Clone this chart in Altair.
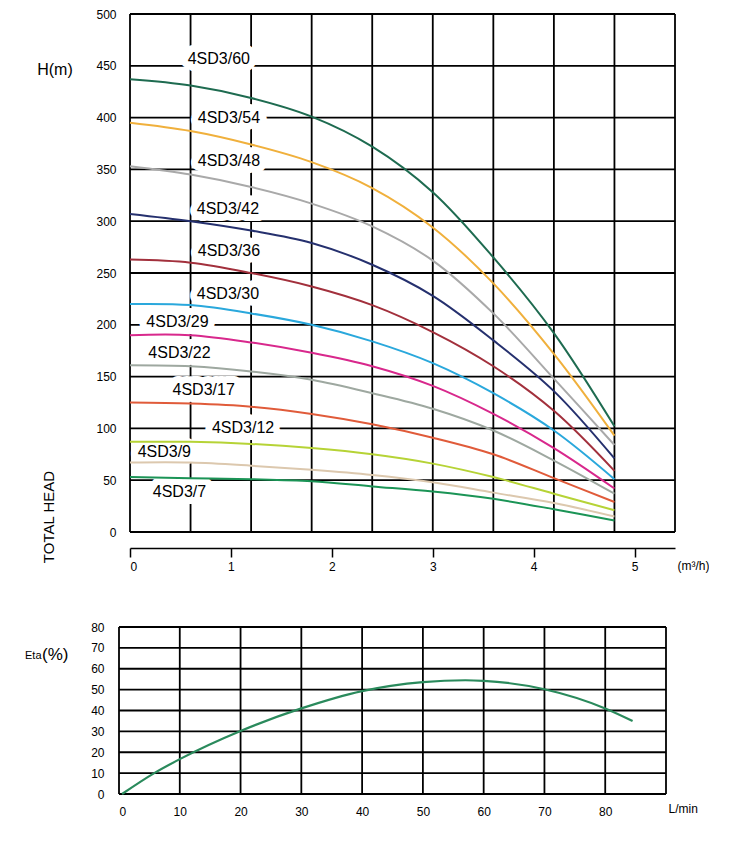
import altair as alt
import pandas as pd

FONT = "Liberation Sans"

# ---------------- data: head curves (H in m vs Q in m3/h) ----------------
flow_m3h = [0, 0.6, 1.2, 1.8, 2.4, 3.0, 3.6, 4.2, 4.8]
head_60 = [437, 431, 419, 401, 372, 328, 265, 192, 102]
head_54 = [395, 387, 374, 357, 332, 294, 240, 172, 93]
head_48 = [353, 345, 333, 317, 295, 262, 211, 148, 84]
head_42 = [307, 300, 291, 279, 258, 228, 185, 136, 71]
head_36 = [263, 260, 250, 237, 219, 193, 160, 117, 59]
head_30 = [220, 219, 211, 200, 184, 163, 134, 98, 51]
head_29 = [190, 190, 183, 173, 160, 141, 114, 81, 42]
head_22 = [161, 160, 155, 147, 134, 119, 98, 69, 37]
head_17 = [125, 124, 121, 114, 104, 91, 75, 52, 29]
head_12 = [87, 87, 85, 81, 75, 66, 53, 37, 21]
head_9 = [67, 67, 64, 60, 55, 48, 38, 28, 15]
head_7 = [53, 52, 51, 49, 44, 39, 32, 22, 11]

models = ["4SD3/60", "4SD3/54", "4SD3/48", "4SD3/42", "4SD3/36", "4SD3/30",
          "4SD3/29", "4SD3/22", "4SD3/17", "4SD3/12", "4SD3/9", "4SD3/7"]
heads = [head_60, head_54, head_48, head_42, head_36, head_30,
         head_29, head_22, head_17, head_12, head_9, head_7]
colors = ["#1e6b50", "#f0b03c", "#a9a9a9", "#25306e", "#a2303c", "#2aa8dc",
          "#d8288c", "#9ea8a0", "#e05b3a", "#b6d336", "#dcc8ae", "#1b9456"]

# model label positions (in data units)
label_x = [0.88, 0.98, 0.98, 0.97, 0.98, 0.97, 0.47, 0.49, 0.73, 1.12, 0.34, 0.49]
label_y = [457, 400, 358, 312, 271, 230, 203, 173, 137, 100, 77, 39]

x_ticks = [0, 1, 2, 3, 4, 5]
y_ticks = [0, 50, 100, 150, 200, 250, 300, 350, 400, 450, 500]
grid_x = [0, 0.6, 1.2, 1.8, 2.4, 3.0, 3.6, 4.2, 4.8, 5.4]
grid_y = [0, 50, 100, 150, 200, 250, 300, 350, 400, 450, 500]

# ---------------- data: efficiency curve ----------------
eta_flow = [0.5, 5.8, 10, 20, 30, 40, 50, 57, 60, 70, 80, 84.5]
eta_vals = [0, 10, 16.7, 30.2, 41, 49.3, 53.6, 54.5, 54.2, 50.2, 41, 35]
eta_x_ticks = [0, 10, 20, 30, 40, 50, 60, 70, 80]
eta_y_ticks = [0, 10, 20, 30, 40, 50, 60, 70, 80]
eta_grid_x = [0, 10, 20, 30, 40, 50, 60, 70, 80, 90]
eta_grid_y = [0, 10, 20, 30, 40, 50, 60, 70, 80]

# ---------------- tables ----------------
rows = []
for m, h in zip(models, heads):
    for q, v in zip(flow_m3h, h):
        rows.append({"model": m, "q": q, "h": v})
curves_df = pd.DataFrame(rows)
labels_df = pd.DataFrame({"model": models, "lx": label_x, "ly": label_y})
gx_df = pd.DataFrame({"gx": grid_x})
gy_df = pd.DataFrame({"gy": grid_y, "x0": grid_x[0], "x1": grid_x[-1]})

eta_df = pd.DataFrame({"q": eta_flow, "eta": eta_vals})
egx_df = pd.DataFrame({"gx": eta_grid_x})
egy_df = pd.DataFrame({"gy": eta_grid_y})

# ---------------- top chart ----------------
TW, TH = 556, 518
xs = alt.Scale(domain=[0, 5.4], range=[11, TW], nice=False, zero=False)
ys = alt.Scale(domain=[0, 500], nice=False)

x_axis = alt.Axis(values=x_ticks, title="(m³/h)", offset=16, domainColor="black",
                  domainWidth=1.5, tickColor="black", tickSize=9, tickWidth=1.5,
                  labelFontSize=12, labelPadding=4, labelFont=FONT, labelColor="black",
                  titleFont=FONT, titleFontSize=12, titleFontWeight="normal",
                  titleColor="black", titleX=558, titleY=17, titleAlign="left",
                  titleBaseline="middle", grid=False, format="d")
y_axis = alt.Axis(values=y_ticks, title=None, domain=False, ticks=False, labelPadding=3,
                  labelFontSize=12, labelFont=FONT, labelColor="black", grid=False,
                  format="d")

vgrid = alt.Chart(gx_df).mark_rule(color="black", strokeWidth=1.8).encode(
    x=alt.X("gx:Q", scale=xs, axis=x_axis)
)
hgrid = alt.Chart(gy_df).mark_rule(color="black", strokeWidth=1.8).encode(
    y=alt.Y("gy:Q", scale=ys, axis=y_axis),
    x=alt.X("x0:Q", scale=xs, axis=x_axis),
    x2="x1:Q",
)
halo = alt.Chart(labels_df).mark_text(
    font=FONT, fontSize=16, stroke="white", strokeWidth=14, fill="white",
    strokeJoin="round", align="center", baseline="middle"
).encode(
    x=alt.X("lx:Q", scale=xs, axis=x_axis),
    y=alt.Y("ly:Q", scale=ys, axis=y_axis),
    text="model:N",
)
lines = alt.Chart(curves_df).mark_line(strokeWidth=2, interpolate="catmull-rom").encode(
    x=alt.X("q:Q", scale=xs, axis=x_axis),
    y=alt.Y("h:Q", scale=ys, axis=y_axis),
    color=alt.Color("model:N", scale=alt.Scale(domain=models, range=colors), legend=None),
    detail="model:N",
)
label_text = alt.Chart(labels_df).mark_text(
    font=FONT, fontSize=16, color="black", align="center", baseline="middle"
).encode(
    x=alt.X("lx:Q", scale=xs, axis=x_axis),
    y=alt.Y("ly:Q", scale=ys, axis=y_axis),
    text="model:N",
)
hm_text = alt.Chart(pd.DataFrame({"t": ["H(m)"]})).mark_text(
    font=FONT, fontSize=16, color="black", align="center", baseline="middle"
).encode(text="t:N", x=alt.value(-64), y=alt.value(56))
th_text = alt.Chart(pd.DataFrame({"t": ["TOTAL HEAD"]})).mark_text(
    font=FONT, fontSize=15, color="black", align="center", baseline="middle", angle=270
).encode(text="t:N", x=alt.value(-70), y=alt.value(503))

top = alt.layer(vgrid, hgrid, halo, lines, label_text, hm_text, th_text).properties(
    width=TW, height=TH
)

# ---------------- bottom chart ----------------
BW, BH = 547, 167
exs = alt.Scale(domain=[0, 90], nice=False, zero=False)
eys = alt.Scale(domain=[0, 80], nice=False)
ex_axis = alt.Axis(values=eta_x_ticks, title="L/min", domain=False, ticks=False,
                   labelPadding=12, labelFontSize=12, labelFont=FONT, labelColor="black",
                   titleFont=FONT, titleFontSize=12, titleFontWeight="normal",
                   titleColor="black", titleX=549, titleY=14, titleAlign="left",
                   titleBaseline="middle", grid=False, format="d")
ey_axis = alt.Axis(values=eta_y_ticks, title=None, domain=False, ticks=False,
                   labelPadding=15, labelFontSize=12, labelFont=FONT, labelColor="black",
                   grid=False, format="d")

evgrid = alt.Chart(egx_df).mark_rule(color="black", strokeWidth=1.8).encode(
    x=alt.X("gx:Q", scale=exs, axis=ex_axis)
)
ehgrid = alt.Chart(egy_df).mark_rule(color="black", strokeWidth=1.8).encode(
    y=alt.Y("gy:Q", scale=eys, axis=ey_axis)
)
eline = alt.Chart(eta_df).mark_line(color="#2a8a5c", strokeWidth=2.2,
                                    interpolate="monotone").encode(
    x=alt.X("q:Q", scale=exs, axis=ex_axis),
    y=alt.Y("eta:Q", scale=eys, axis=ey_axis),
)
eta_t1 = alt.Chart(pd.DataFrame({"t": ["Eta"]})).mark_text(
    font=FONT, fontSize=11, color="black", align="left", baseline="alphabetic"
).encode(text="t:N", x=alt.value(-94), y=alt.value(32))
eta_t2 = alt.Chart(pd.DataFrame({"t": ["(%)"]})).mark_text(
    font=FONT, fontSize=17, color="black", align="left", baseline="middle"
).encode(text="t:N", x=alt.value(-77), y=alt.value(28))

bottom = alt.layer(evgrid, ehgrid, eline, eta_t1, eta_t2).properties(width=BW, height=BH)

chart = alt.vconcat(top, bottom, spacing=49).properties(
    padding={"left": 17, "top": 0, "right": 0, "bottom": 0},
    background="white",
).configure_view(strokeWidth=0)

chart.save("out.html", embed_options={"renderer": "svg", "actions": False})
